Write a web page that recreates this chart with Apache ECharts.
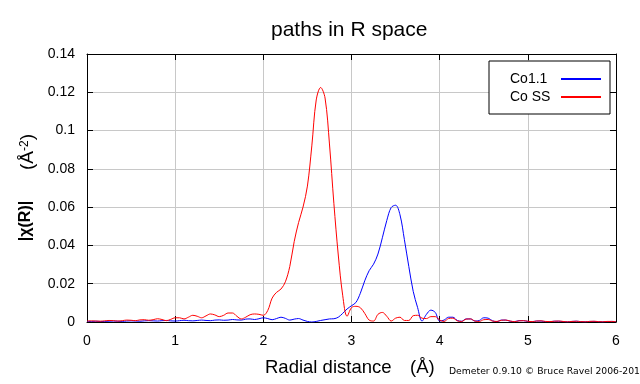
<!DOCTYPE html>
<html>
<head>
<meta charset="utf-8">
<script src="https://cdn.jsdelivr.net/npm/echarts@6/dist/echarts.min.js"></script>
<style>html,body{margin:0;padding:0;background:#fff}#c{width:640px;height:384px}</style>
</head>
<body>
<div id="c"></div>
<script>
const radii = [0.00,0.05,0.10,0.15,0.20,0.25,0.30,0.35,0.40,0.45,0.50,0.55,0.60,0.65,0.70,0.75,0.80,0.85,0.90,0.95,
1.00,1.05,1.10,1.15,1.20,1.25,1.30,1.35,1.40,1.45,1.50,1.55,1.60,1.65,1.70,1.75,1.80,1.85,1.90,1.95,
2.00,2.05,2.10,2.15,2.20,2.25,2.30,2.35,2.40,2.45,2.50,2.55,2.60,2.65,2.70,2.75,2.80,2.85,2.90,2.95,
3.00,3.05,3.10,3.15,3.20,3.25,3.30,3.35,3.40,3.45,3.50,3.55,3.60,3.65,3.70,3.75,3.80,3.85,3.90,3.95,
4.00,4.05,4.10,4.15,4.20,4.25,4.30,4.35,4.40,4.45,4.50,4.55,4.60,4.65,4.70,4.75,4.80,4.85,4.90,4.95,
5.00,5.05,5.10,5.15,5.20,5.25,5.30,5.35,5.40,5.45,5.50,5.55,5.60,5.65,5.70,5.75,5.80,5.85,5.90,5.95,6.00];

const co11 = [0.0003,0.0003,0.0004,0.0003,0.0003,0.0004,0.0005,0.0004,0.0003,0.0005,0.0006,0.0005,0.0004,0.0006,0.0007,0.0006,0.0005,0.0007,0.0008,0.0006,
0.0005,0.0007,0.0009,0.0007,0.0006,0.0008,0.0010,0.0008,0.0007,0.0010,0.0011,0.0009,0.0010,0.0013,0.0011,0.0010,0.0015,0.0016,0.0013,0.0017,
0.0022,0.0018,0.0012,0.0018,0.0025,0.0019,0.0010,0.0015,0.0018,0.0010,0.0003,0.0000,0.0003,0.0008,0.0012,0.0016,0.0017,0.0025,0.0045,0.0068,
0.0085,0.0102,0.0150,0.0215,0.0268,0.0302,0.0355,0.0440,0.0530,0.0598,0.0610,0.0560,0.0430,0.0290,0.0160,0.0075,0.0005,0.0040,0.0062,0.0050,
0.0005,0.0010,0.0025,0.0025,0.0008,0.0004,0.0016,0.0016,0.0005,0.0008,0.0022,0.0020,0.0006,0.0002,0.0010,0.0010,0.0004,0.0002,0.0007,0.0007,
0.0003,0.0002,0.0005,0.0005,0.0002,0.0002,0.0004,0.0004,0.0002,0.0001,0.0003,0.0004,0.0002,0.0001,0.0003,0.0003,0.0002,0.0001,0.0002,0.0003,0.0002];

const coSS = [0.0005,0.0006,0.0005,0.0004,0.0006,0.0008,0.0007,0.0005,0.0007,0.0010,0.0009,0.0007,0.0011,0.0012,0.0009,0.0012,0.0017,0.0013,0.0007,0.0014,
0.0022,0.0022,0.0016,0.0025,0.0035,0.0030,0.0022,0.0032,0.0042,0.0037,0.0028,0.0035,0.0047,0.0047,0.0030,0.0016,0.0025,0.0038,0.0042,0.0040,
0.0035,0.0060,0.0125,0.0155,0.0172,0.0210,0.0290,0.0420,0.0520,0.0600,0.0710,0.0920,0.1160,0.1225,0.1170,0.0930,0.0620,0.0350,0.0140,0.0030,
0.0075,0.0082,0.0075,0.0045,0.0010,0.0005,0.0040,0.0050,0.0030,0.0005,0.0020,0.0025,0.0008,0.0008,0.0033,0.0035,0.0020,0.0018,0.0028,0.0028,
0.0010,0.0003,0.0018,0.0020,0.0006,0.0003,0.0015,0.0016,0.0005,0.0003,0.0012,0.0013,0.0005,0.0003,0.0009,0.0010,0.0005,0.0002,0.0006,0.0007,
0.0004,0.0002,0.0005,0.0006,0.0003,0.0002,0.0004,0.0005,0.0003,0.0001,0.0003,0.0004,0.0002,0.0001,0.0003,0.0004,0.0002,0.0001,0.0003,0.0003,0.0002];

const seriesNames = ['Co1.1', 'Co SS'];
const xTicks = [0, 1, 2, 3, 4, 5, 6];
const yTicks = [0, 0.02, 0.04, 0.06, 0.08, 0.1, 0.12, 0.14];

const FONT = 'Liberation Sans, Arial, sans-serif';
const chart = echarts.init(document.getElementById('c'), null, {renderer: 'canvas'});

function pairs(vals) { return radii.map((r, i) => [r, vals[i]]); }

const axisCommon = {
  axisLine: {show: true, onZero: false, lineStyle: {color: '#000', width: 1}},
  axisTick: {show: true, inside: true, length: 6, lineStyle: {color: '#000', width: 1}}
};

chart.setOption({
  animation: false,
  backgroundColor: '#fff',
  title: {
    text: 'paths in R space', left: 271, top: 20, padding: 0,
    textStyle: {fontFamily: FONT, fontSize: 21, fontWeight: 'normal', color: '#000'}
  },
  grid: {left: 87, right: 24, top: 54, bottom: 62, containLabel: false},
  xAxis: [
    Object.assign({type: 'value', min: xTicks[0], max: xTicks[xTicks.length - 1], interval: 1, position: 'bottom',
      axisLabel: {color: '#000', fontFamily: FONT, fontSize: 14, margin: 12},
      splitLine: {show: true, lineStyle: {color: '#c8c8c8', width: 1}}}, axisCommon),
    Object.assign({type: 'value', min: xTicks[0], max: xTicks[xTicks.length - 1], interval: 1, position: 'top',
      axisLabel: {show: false}, splitLine: {show: false}}, axisCommon)
  ],
  yAxis: [
    Object.assign({type: 'value', min: yTicks[0], max: yTicks[yTicks.length - 1], interval: 0.02, position: 'left',
      axisLabel: {color: '#000', fontFamily: FONT, fontSize: 14, margin: 12,
        formatter: v => String(Math.round(v * 100) / 100)},
      splitLine: {show: true, lineStyle: {color: '#c8c8c8', width: 1}}}, axisCommon),
    Object.assign({type: 'value', min: yTicks[0], max: yTicks[yTicks.length - 1], interval: 0.02, position: 'right',
      axisLabel: {show: false}, splitLine: {show: false}}, axisCommon)
  ],
  legend: {
    orient: 'vertical', left: 489, top: 61,
    padding: [11, 8, 10, 21], itemGap: 4, itemWidth: 40, itemHeight: 14,
    align: 'right',
    backgroundColor: '#fff', borderColor: '#000', borderWidth: 1, borderRadius: 0,
    itemStyle: {color: 'rgba(0,0,0,0)', borderWidth: 0, opacity: 0},
    formatter: '{t|{name}}',
    textStyle: {fontFamily: FONT, fontSize: 14, color: '#000',
      rich: {t: {fontFamily: FONT, fontSize: 14, color: '#000', width: 46, align: 'left'}}},
    data: seriesNames
  },
  series: [
    {name: seriesNames[0], type: 'line', data: pairs(co11), smooth: 0.35, symbol: 'none', showSymbol: false,
      lineStyle: {color: '#0000ff', width: 1}, itemStyle: {color: '#0000ff'}},
    {name: seriesNames[1], type: 'line', data: pairs(coSS), smooth: 0.35, symbol: 'none', showSymbol: false,
      lineStyle: {color: '#ff0000', width: 1}, itemStyle: {color: '#ff0000'}}
  ],
  graphic: [
    {type: 'text', left: 265, top: 358, style: {text: 'Radial distance', font: 'normal 18.5px ' + FONT, fill: '#000'}},
    {type: 'text', left: 410, top: 358, style: {text: '(Å)', font: 'normal 18.5px ' + FONT, fill: '#000'}},
    {type: 'text', x: 26, y: 221, rotation: Math.PI / 2,
      style: {text: '|χ(R)|', font: 'bold 16px ' + FONT, fill: '#000', align: 'center', verticalAlign: 'middle'}},
    {type: 'text', x: 28, y: 152, rotation: Math.PI / 2,
      style: {text: '{a|(Å}{s|-2}{a|)}', fill: '#000', align: 'center', verticalAlign: 'middle',
        rich: {a: {fontFamily: FONT, fontSize: 19, fill: '#000'}, s: {fontFamily: FONT, fontSize: 12, verticalAlign: 'top', fill: '#000'}}}},
    {type: 'text', left: 449, top: 367, style: {text: 'Demeter 0.9.10 © Bruce Ravel 2006-201', font: '9.25px DejaVu Sans', fill: '#000'}}
  ]
});
</script>
</body>
</html>
